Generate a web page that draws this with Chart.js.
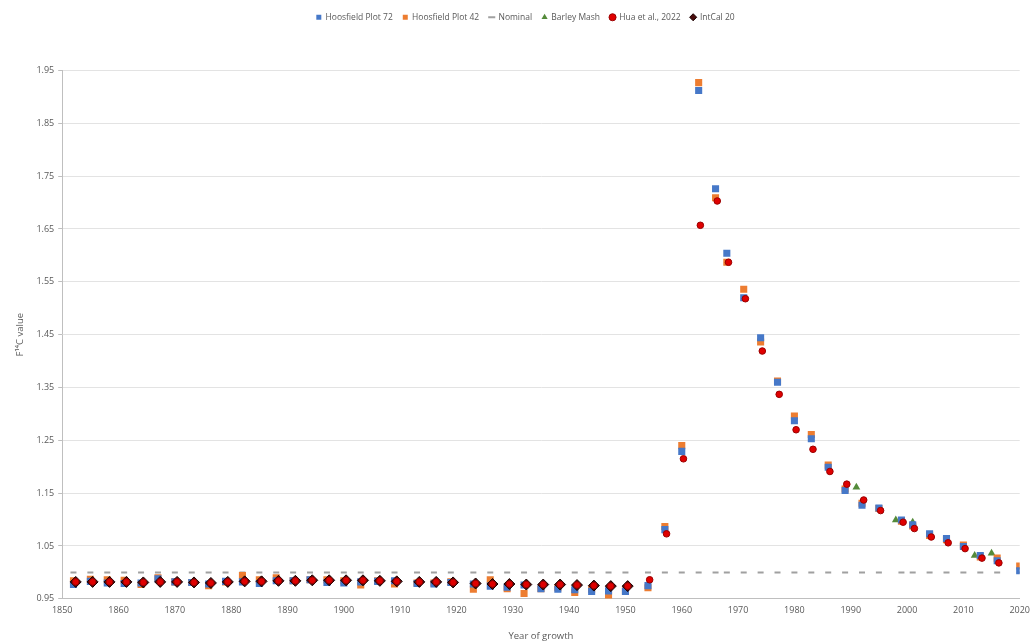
<!DOCTYPE html>
<html>
<head>
<meta charset="utf-8">
<title>F14C value by year of growth</title>
<script src="https://cdn.jsdelivr.net/npm/chart.js@4.4.1/dist/chart.umd.min.js"></script>
<style>
  html, body { margin: 0; padding: 0; background: #fff; }
  #wrap { width: 1036px; height: 642px; position: relative; }
</style>
</head>
<body>
<div id="wrap"><canvas id="f14cChart"></canvas></div>
<script>
// sample years for the Hoosfield plots (and the nominal line)
const hoosfieldYears = [
  1852, 1855, 1858, 1861, 1864, 1867, 1870, 1873, 1876, 1879,
  1882, 1885, 1888, 1891, 1894, 1897, 1900, 1903, 1906, 1909,
  1913, 1916, 1919, 1923, 1926, 1929, 1932, 1935, 1938, 1941,
  1944, 1947, 1950, 1954, 1957, 1960, 1963, 1966, 1968, 1971,
  1974, 1977, 1980, 1983, 1986, 1989, 1992, 1995, 1999, 2001,
  2004, 2007, 2010, 2013, 2016, 2020
];
const plot72 = [
  0.977, 0.983, 0.980, 0.979, 0.980, 0.988, 0.982, 0.981, 0.978, 0.983,
  0.982, 0.979, 0.984, 0.984, 0.986, 0.981, 0.980, 0.982, 0.983, 0.984,
  0.979, 0.978, 0.981, 0.978, 0.974, 0.972, 0.976, 0.969, 0.968, 0.967,
  0.964, 0.965, 0.964, 0.975, 1.081, 1.229, 1.912, 1.726, 1.604, 1.520,
  1.444, 1.360, 1.287, 1.253, 1.199, 1.155, 1.127, 1.122, 1.099, 1.090,
  1.073, 1.064, 1.049, 1.032, 1.022, 1.003
];
const plot42 = [
  0.984, 0.987, 0.986, 0.985, 0.977, 0.990, 0.982, 0.981, 0.975, 0.982,
  0.994, 0.986, 0.990, 0.984, 0.986, 0.986, 0.984, 0.976, 0.984, 0.978,
  0.980, 0.980, 0.982, 0.968, 0.986, 0.969, 0.960, 0.969, 0.971, 0.962,
  0.968, 0.957, 0.965, 0.971, 1.087, 1.240, 1.927, 1.709, 1.587, 1.536,
  1.436, 1.362, 1.296, 1.261, 1.203, 1.158, 1.131, 1.121, 1.097, 1.088,
  1.070, 1.062, 1.052, 1.029, 1.027, 1.012
];
const nominalValue = 1.0;

const barleyYears = [1991, 1998, 2001, 2012, 2015];
const barleyMash = [1.161, 1.099, 1.095, 1.032, 1.036];

const intcalYears = [
  1852.4, 1855.4, 1858.4, 1861.4, 1864.4, 1867.4, 1870.4, 1873.4, 1876.4, 1879.4,
  1882.4, 1885.4, 1888.4, 1891.4, 1894.4, 1897.4, 1900.4, 1903.4, 1906.4, 1909.4,
  1913.4, 1916.4, 1919.4, 1923.4, 1926.4, 1929.4, 1932.4, 1935.4, 1938.4, 1941.4,
  1944.4, 1947.4, 1950.4
];
const intcal20 = [
  0.982, 0.982, 0.982, 0.982, 0.981, 0.982, 0.982, 0.981, 0.980, 0.982,
  0.983, 0.983, 0.984, 0.984, 0.985, 0.985, 0.985, 0.985, 0.984, 0.983,
  0.982, 0.982, 0.981, 0.979, 0.978, 0.978, 0.977, 0.977, 0.977, 0.976,
  0.975, 0.974, 0.974
];

const huaYears = intcalYears.concat([
  1954.3, 1957.3, 1960.3, 1963.3, 1966.3, 1968.3, 1971.3, 1974.3, 1977.3, 1980.3,
  1983.3, 1986.3, 1989.3, 1992.3, 1995.3, 1999.3, 2001.3, 2004.3, 2007.3, 2010.3,
  2013.3, 2016.3
]);
const hua2022 = intcal20.concat([
  0.986, 1.073, 1.215, 1.657, 1.703, 1.587, 1.518, 1.419, 1.337, 1.270,
  1.233, 1.191, 1.167, 1.137, 1.117, 1.095, 1.083, 1.067, 1.056, 1.045,
  1.027, 1.018
]);

const xTicks = { min: 1850, max: 2020, step: 10 };
const yTicks = { min: 0.95, max: 1.95, step: 0.1 };

function pts(xs, ys) {
  return xs.map((x, i) => ({ x: x, y: ys[i] }));
}

Chart.defaults.font.family = "'Open Sans', sans-serif";
Chart.defaults.font.size = 9;
Chart.defaults.color = '#595959';

// extra room under the legend
const legendGap = {
  id: 'legendGap',
  beforeInit(chart) {
    const origFit = chart.legend.fit;
    chart.legend.fit = function () {
      origFit.bind(chart.legend)();
      this.height += 39;
    };
  }
};

const ctx = document.getElementById('f14cChart').getContext('2d');
const chart = new Chart(ctx, {
  type: 'scatter',
  data: {
    datasets: [
      {
        label: 'Hoosfield Plot 72',
        data: pts(hoosfieldYears, plot72),
        pointStyle: 'rect',
        pointRadius: 5,
        pointHoverRadius: 5,
        backgroundColor: '#4678C8',
        borderColor: '#4678C8',
        borderWidth: 0,
        order: 2
      },
      {
        label: 'Hoosfield Plot 42',
        data: pts(hoosfieldYears, plot42),
        pointStyle: 'rect',
        pointRadius: 5,
        pointHoverRadius: 5,
        backgroundColor: '#ED7D31',
        borderColor: '#ED7D31',
        borderWidth: 0,
        order: 3
      },
      {
        label: 'Nominal',
        data: hoosfieldYears.map(y => ({ x: y, y: nominalValue })),
        pointStyle: 'line',
        pointRadius: 3,
        pointHoverRadius: 3,
        backgroundColor: '#A0A0A0',
        borderColor: '#A0A0A0',
        borderWidth: 2,
        order: 5
      },
      {
        label: 'Barley Mash',
        data: pts(barleyYears, barleyMash),
        pointStyle: 'triangle',
        pointRadius: 4.5,
        pointHoverRadius: 4.5,
        backgroundColor: '#548B3A',
        borderColor: '#548B3A',
        borderWidth: 0,
        order: 4
      },
      {
        label: 'Hua et al., 2022',
        data: pts(huaYears, hua2022),
        pointStyle: 'circle',
        pointRadius: 3.3,
        pointHoverRadius: 3.3,
        backgroundColor: '#E00000',
        borderColor: '#9A0000',
        borderWidth: 1,
        order: 0
      },
      {
        label: 'IntCal 20',
        data: pts(intcalYears, intcal20),
        pointStyle: 'rectRot',
        pointRadius: 5.5,
        pointHoverRadius: 5.5,
        backgroundColor: '#4A0C0C',
        borderColor: '#1A0000',
        borderWidth: 1,
        order: 1
      }
    ]
  },
  options: {
    responsive: true,
    maintainAspectRatio: false,
    animation: false,
    layout: {
      padding: { top: 3, left: 15, right: 0, bottom: 0 }
    },
    plugins: {
      legend: {
        position: 'top',
        labels: {
          usePointStyle: true,
          boxWidth: 5,
          boxHeight: 5,
          padding: 10,
          color: '#595959',
          font: { size: 8.5 },
          sort: (a, b) => a.datasetIndex - b.datasetIndex
        }
      },
      tooltip: { enabled: false }
    },
    scales: {
      x: {
        type: 'linear',
        min: xTicks.min,
        max: xTicks.max,
        ticks: {
          stepSize: xTicks.step,
          color: '#595959',
          padding: 6,
          callback: v => String(v)
        },
        grid: {
          drawOnChartArea: false,
          drawTicks: false,
          color: '#BFBFBF'
        },
        border: { color: '#BFBFBF' },
        title: {
          display: true,
          text: 'Year of growth',
          color: '#595959',
          font: { size: 9.5 },
          padding: { top: 9, bottom: 0 }
        }
      },
      y: {
        type: 'linear',
        min: yTicks.min,
        max: yTicks.max,
        ticks: {
          stepSize: yTicks.step,
          color: '#595959',
          padding: 4,
          callback: v => Number(v).toFixed(2)
        },
        grid: {
          color: '#E3E3E3',
          tickColor: '#BFBFBF',
          tickLength: 4
        },
        border: { color: '#BFBFBF' },
        title: {
          display: true,
          text: 'F¹⁴C value',
          color: '#595959',
          font: { size: 9.5 },
          padding: { top: 0, bottom: 6 }
        }
      }
    }
  },
  plugins: [legendGap]
});
</script>
</body>
</html>
